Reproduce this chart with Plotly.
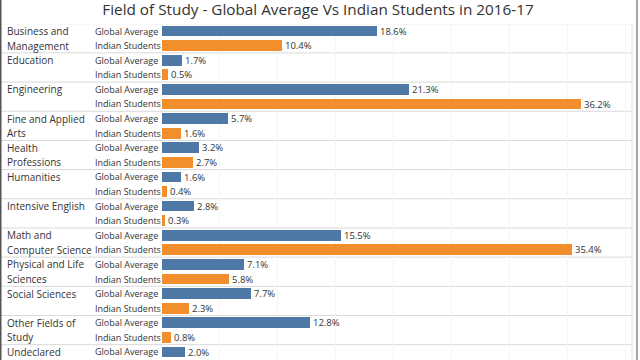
import plotly.graph_objects as go

fields = ["Business and<br>Management", "Education", "Engineering", "Fine and Applied<br>Arts",
          "Health<br>Professions", "Humanities", "Intensive English", "Math and<br>Computer Science",
          "Physical and Life<br>Sciences", "Social Sciences", "Other Fields of<br>Study", "Undeclared"]
global_avg = [18.6, 1.7, 21.3, 5.7, 3.2, 1.6, 2.8, 15.5, 7.1, 7.7, 12.8, 2.0]
indian = [10.4, 0.5, 36.2, 1.6, 2.7, 0.4, 0.3, 35.4, 5.8, 2.3, 0.8, None]
series_names = ["Global Average", "Indian Students"]

BLUE = "#4e79a7"
ORANGE = "#f28e2b"
FONT = "Open Sans"
TXT = "#333333"
W, H = 640, 360
ML, MR, MT, MB = 162, 8, 24, 0

n = len(fields)
y_g = [2 * i for i in range(n)]
y_i = [2 * i + 1 for i in range(n)]

fig = go.Figure()
for name, vals, ys, col in [(series_names[0], global_avg, y_g, BLUE),
                            (series_names[1], indian, y_i, ORANGE)]:
    xs = [v for v in vals if v is not None]
    yy = [y for v, y in zip(vals, ys) if v is not None]
    fig.add_trace(go.Bar(
        x=xs, y=yy, orientation="h", width=0.74,
        marker=dict(color=col, line=dict(width=0)),
        text=[f"{v:.1f}%" for v in xs], textposition="outside", constraintext="none",
        textfont=dict(family=FONT, size=9.5, color=TXT),
        cliponaxis=False, name=name, showlegend=False,
    ))

pw = W - ML - MR
ph = H - MT - MB
x_left_paper = -ML / pw
shapes = []
for i in range(n):
    shapes.append(dict(type="line", xref="paper", yref="y", x0=x_left_paper, x1=1,
                       y0=2 * i - 0.5, y1=2 * i - 0.5,
                       line=dict(color="#d9d9d9", width=1), layer="below"))
# light right edge of the pane
shapes.append(dict(type="line", xref="paper", yref="paper", x0=1, x1=1, y0=0, y1=1,
                   line=dict(color="#e2e2e2", width=1), layer="below"))
# dark outer borders
shapes.append(dict(type="line", xref="paper", yref="paper", x0=x_left_paper + 0.75 / pw,
                   x1=x_left_paper + 0.75 / pw, y0=0, y1=1 + MT / ph,
                   line=dict(color="#555555", width=1.5)))
shapes.append(dict(type="line", xref="paper", yref="paper", x0=1 + 5 / pw,
                   x1=1 + 5 / pw, y0=0, y1=1 + MT / ph,
                   line=dict(color="#888888", width=1.5)))

annotations = []
for i, f in enumerate(fields):
    for j, line in enumerate(f.split("<br>")):
        annotations.append(dict(text=line, xref="paper", yref="y", x=x_left_paper + 5 / pw,
                                y=2 * i + j, xanchor="left", yanchor="middle", align="left",
                                showarrow=False, font=dict(family=FONT, size=10, color=TXT)))
    for k, sname in enumerate(series_names):
        if k == 1 and indian[i] is None:
            continue
        annotations.append(dict(text=sname, xref="paper", yref="y", x=x_left_paper + 93 / pw,
                                y=2 * i + k, xanchor="left", yanchor="middle",
                                showarrow=False, font=dict(family=FONT, size=9, color=TXT)))

fig.update_layout(
    width=W, height=H,
    margin=dict(l=ML, r=MR, t=MT, b=MB),
    paper_bgcolor="white", plot_bgcolor="white",
    title=dict(text="Field of Study - Global Average Vs Indian Students in 2016-17",
               x=(318) / W, xanchor="center", y=1 - 10 / H, yanchor="middle",
               font=dict(family=FONT, size=15.3, color=TXT)),
    xaxis=dict(range=[0, 40.6], showticklabels=False, showgrid=True, dtick=5,
               gridcolor="#f4f4f4", zeroline=False, showline=False, fixedrange=True),
    yaxis=dict(range=[22.55, -0.48], showticklabels=False, showgrid=False,
               zeroline=False, showline=False, fixedrange=True),
    bargap=0, shapes=shapes, annotations=annotations, showlegend=False,
    hovermode=False,
)

fig.write_html("out.html", config={"displayModeBar": False},
               post_script="document.body.style.margin='0';")
